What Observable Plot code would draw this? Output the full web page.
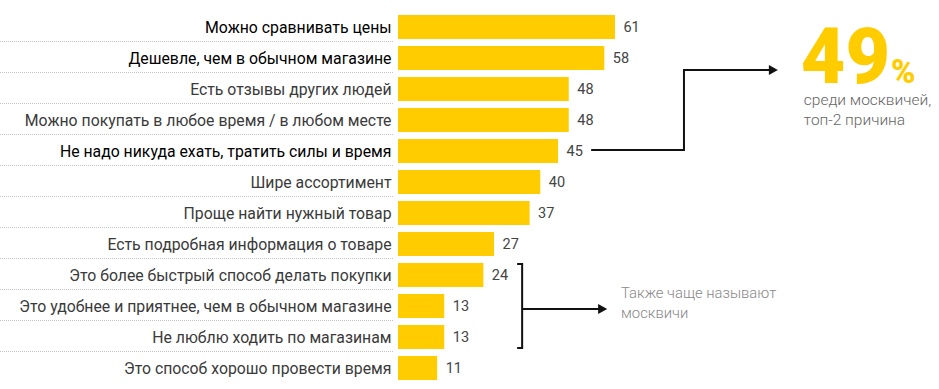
<!DOCTYPE html>
<html><head><meta charset="utf-8">
<script src="https://cdn.jsdelivr.net/npm/d3@7"></script>
<script src="https://cdn.jsdelivr.net/npm/@observablehq/plot@0.6"></script>
<style>
html,body{margin:0;padding:0;background:#fff;}
#chart{width:939px;height:389px;}
</style></head>
<body><div id="chart"></div>
<script>
const categories = [
  "Можно сравнивать цены",
  "Дешевле, чем в обычном магазине",
  "Есть отзывы других людей",
  "Можно покупать в любое время / в любом месте",
  "Не надо никуда ехать, тратить силы и время",
  "Шире ассортимент",
  "Проще найти нужный товар",
  "Есть подробная информация о товаре",
  "Это более быстрый способ делать покупки",
  "Это удобнее и приятнее, чем в обычном магазине",
  "Не люблю ходить по магазинам",
  "Это способ хорошо провести время"
];
const values = [61, 58, 48, 48, 45, 40, 37, 27, 24, 13, 13, 11];
const strongRows = [
  "Можно сравнивать цены",
  "Дешевле, чем в обычном магазине",
  "Не надо никуда ехать, тратить силы и время"
];
const bracketRows = [
  "Это более быстрый способ делать покупки",
  "Не люблю ходить по магазинам"
];
const highlightRow = "Не надо никуда ехать, тратить силы и время";
const bigNumber = "49";
const bigNumberUnit = "%";
const highlightNote = ["среди москвичей,", "топ-2 причина"];
const bracketNote = ["Также чаще называют", "москвичи"];

const data = categories.map((c, i) => ({category: c, value: values[i], strong: strongRows.includes(c)}));
const FONT = "Roboto, 'Open Sans', sans-serif";

const plot = Plot.plot({
  width: 939, height: 389,
  marginLeft: 0, marginRight: 0, marginTop: 0, marginBottom: 0,
  x: {domain: [-111.9, 152.1], range: [0, 939], axis: null},
  y: {domain: categories, range: [13, 382], paddingInner: 0.235, paddingOuter: 0, axis: null},
  style: {fontFamily: FONT, background: "transparent", overflow: "visible"},
  marks: [
    Plot.barX(data, {x: "value", y: "category", fill: "#ffcc00"}),
    Plot.text(data, {x: "value", y: "category", text: d => String(d.value), dx: 8, textAnchor: "start", fill: "#444", fontSize: 14.5}),
    Plot.text(data, {x: 0, y: "category", text: "category", dx: -7, textAnchor: "end",
      fill: d => d.strong ? "#000" : "#3a3a3a", fontSize: 15.8, fontWeight: d => d.strong ? 500 : 400})
  ]
});
document.getElementById("chart").appendChild(plot);

const xs = plot.scale("x"), ys = plot.scale("y");
const bw = ys.bandwidth, step = ys.step;
const bandTop = c => ys.apply(c);
const bandMid = c => ys.apply(c) + bw / 2;
const px = v => xs.apply(v);
const svg = d3.select(plot);
const g = svg.append("g").attr("text-anchor", "start");

// dotted separators between rows
categories.slice(0, -1).forEach(c => {
  const yy = Math.round(bandTop(c) + bw + (step - bw) / 2) - 1.5;
  g.append("line").attr("x1", 0).attr("x2", px(0) - 5).attr("y1", yy).attr("y2", yy)
    .attr("stroke", "#c4c4c4").attr("stroke-width", 1).attr("stroke-dasharray", "1,1");
});

// arrow from highlighted row to the big number
const hv = values[categories.indexOf(highlightRow)];
const ax0 = px(hv + 9.3), ax1 = px(80.4), ax2 = px(106.8);
const ay0 = Math.round(bandMid(highlightRow)) - 1, ay1 = Math.round(bandTop(categories[2]) - 7);
g.append("path").attr("d", `M${ax0},${ay0}H${ax1}V${ay1}H${ax2 - 6}`)
  .attr("fill", "none").attr("stroke", "#111").attr("stroke-width", 2);
g.append("path").attr("d", `M${ax2},${ay1}l-9,-5v10z`).attr("fill", "#111");

// big number
const bx = px(114.1);
const bt = g.append("text").attr("x", bx - 3).attr("y", ay1 + 13)
  .attr("fill", "#ffcc00").attr("font-family", FONT).attr("font-weight", 900);
bt.append("tspan").attr("font-size", 77).text(bigNumber);
bt.append("tspan").attr("font-size", 33).attr("dx", 1).text(bigNumberUnit);
highlightNote.forEach((t, i) => {
  g.append("text").attr("x", bx).attr("y", ay1 + 35 + i * 20).attr("fill", "#666")
    .attr("font-family", FONT).attr("font-weight", 300).attr("font-size", 15.5).text(t);
});

// bracket
const bxv = px(34.9), by0 = bandTop(bracketRows[0]) + 1, by1 = bandTop(bracketRows[1]) + bw - 1;
g.append("path").attr("d", `M${bxv - 5},${by0}H${bxv}V${by1}H${bxv - 5}`)
  .attr("fill", "none").attr("stroke", "#111").attr("stroke-width", 2);
const bym = Math.round((by0 + by1) / 2) + 3, bxe = px(58.8);
g.append("path").attr("d", `M${bxv},${bym}H${bxe - 6}`).attr("stroke", "#111").attr("stroke-width", 2);
g.append("path").attr("d", `M${bxe},${bym}l-9,-5v10z`).attr("fill", "#111");
bracketNote.forEach((t, i) => {
  g.append("text").attr("x", px(62.7)).attr("y", bym - 11 + i * 20).attr("fill", "#888")
    .attr("font-family", FONT).attr("font-weight", 300).attr("font-size", 14.8).text(t);
});
</script></body></html>
